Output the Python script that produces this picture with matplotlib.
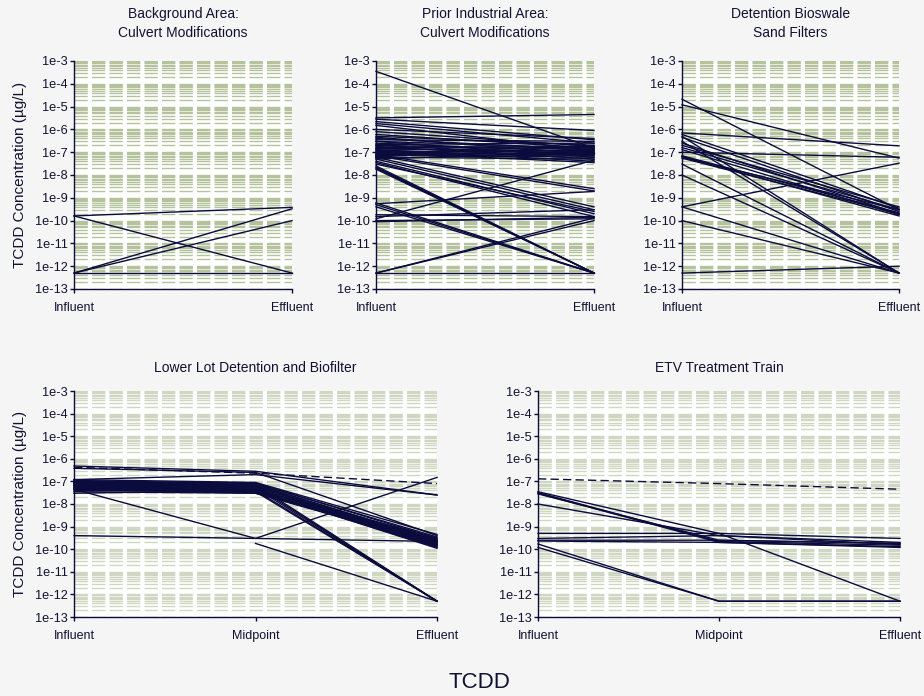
import numpy as np
import matplotlib
matplotlib.use("Agg")
import matplotlib.pyplot as plt
from matplotlib.ticker import LogLocator, FuncFormatter, NullFormatter

plt.rcParams['font.family'] = ['Liberation Sans', 'DejaVu Sans']

# --- data (TCDD, ug/L) ---
two_stage = ["Influent", "Effluent"]
three_stage = ["Influent", "Midpoint", "Effluent"]

bg_inf = [1.6e-10, 1.6e-10, 5e-13, 5e-13, 5e-13]
bg_eff = [3.8e-10, 5e-13, 3.3e-10, 1.0e-10, 5e-13]

pi_inf = [3.5e-4, 3.2e-6, 2.8e-6, 2.2e-6, 1.8e-6, 1.5e-6, 1.0e-6, 8e-7,
          6e-7, 5e-7, 4.5e-7, 4e-7, 3.5e-7, 3e-7, 3e-7, 2.5e-7, 2.2e-7, 2e-7,
          2e-7, 1.8e-7, 1.6e-7, 1.5e-7, 1.4e-7, 1.3e-7, 1.2e-7, 1.1e-7, 1e-7,
          1e-7, 9e-8, 8.5e-8, 8e-8, 7e-8, 6.5e-8, 6e-8, 5.5e-8, 5e-8,
          8e-8, 7e-8, 6e-8, 5e-8, 4e-8, 3.5e-8, 3e-8, 2.5e-8, 2.2e-8, 2e-8,
          1.8e-8, 6e-10, 5e-10, 4e-10, 5.5e-10, 1.8e-10, 1.5e-10, 1.2e-10,
          1e-10, 9e-11, 5e-13, 5e-13, 5e-13]
pi_eff = [1.5e-7, 4.5e-6, 9e-7, 3.5e-7, 2.5e-7, 1.2e-7, 4e-7, 1.8e-7,
          1.5e-7, 2e-7, 8e-8, 1.2e-7, 3e-7, 6e-8, 1.5e-7, 1e-7, 2.5e-7, 7e-8,
          1.3e-7, 5e-8, 1.8e-7, 9e-8, 1.1e-7, 4e-8, 1.6e-7, 7e-8, 1.2e-7,
          3.5e-8, 9e-8, 2e-7, 6e-8, 1e-7, 1.4e-7, 5e-8, 8e-8, 1.1e-7,
          2.5e-9, 2e-9, 4e-10, 3e-10, 2e-10, 1.5e-10, 2.5e-10, 5e-13, 5e-13,
          5e-13, 5e-13, 5e-13, 5e-13, 5e-13, 1.9e-9, 1.5e-10, 3e-10, 4.5e-8,
          1.2e-10, 1.4e-10, 1.3e-10, 1e-10, 5e-13]

bs_inf = [2.1e-5, 1.2e-5, 7e-7, 6e-7, 5e-7, 4.5e-7, 3e-7, 2.5e-7, 2e-7,
          1.6e-7, 1.3e-7, 1e-7, 7e-8, 6.5e-8, 6e-8, 5.5e-8, 3e-8, 1e-8,
          4e-10, 4e-10, 1e-10, 5e-13]
bs_eff = [3e-10, 5.5e-8, 1.9e-7, 3.5e-10, 5e-13, 2.5e-10, 5e-13, 2e-10,
          4e-10, 3e-10, 1.8e-10, 6e-8, 2.2e-10, 1.6e-10, 3e-10, 2e-10, 5e-13,
          5e-13, 3.3e-8, 5e-13, 5e-13, 1e-12]

nan = np.nan
ll_inf = [4.8e-7, 4.2e-7, 3.8e-7, 1.2e-7,
          1.2e-7, 1.1e-7, 1e-7, 1e-7, 9e-8, 9e-8, 8.5e-8, 8e-8, 8e-8, 7.5e-8,
          7e-8, 7e-8, 6.5e-8, 6e-8, 6e-8, 5.5e-8, 5e-8, 5e-8, 4.5e-8, 4e-8,
          3.5e-8, 3e-8,
          9e-8, 8e-8, 7e-8, 6e-8, 5e-8,
          4.5e-8, 4e-10, nan]
ll_mid = [2.8e-7, 2.3e-7, 2.5e-7, 2e-7,
          9e-8, 8e-8, 8.5e-8, 7e-8, 7.5e-8, 6e-8, 6.5e-8, 5e-8, 5.5e-8, 6e-8,
          4.5e-8, 5e-8, 4e-8, 4.5e-8, 3.5e-8, 4e-8, 3.2e-8, 3.8e-8, 3e-8, 3.5e-8,
          3e-8, 4e-8,
          7e-8, 6e-8, 5e-8, 4e-8, 3.5e-8,
          3e-10, 3e-10, 1.8e-10]
ll_eff = [2.5e-8, 8e-8, 4e-10, 2.5e-8,
          4.5e-10, 3.5e-10, 3e-10, 2.5e-10, 2.2e-10, 2e-10, 1.8e-10, 1.6e-10,
          2.8e-10, 1.5e-10, 2e-10, 1.3e-10, 3.2e-10, 2.4e-10, 1.7e-10, 1.2e-10,
          2.1e-10, 1.4e-10, 1.9e-10, 2.6e-10, 1.6e-10, 1.1e-10,
          5e-13, 5e-13, 5e-13, 5e-13, 5e-13,
          1.5e-7, 2.2e-10, 5e-13]
ll_dashed = [1]

etv_inf = [1.3e-7, 3.5e-8, 3.2e-8, 3e-8, 2.8e-8, 1e-8, 5e-10, 3e-10,
           2.5e-10, 2.3e-10, 1.7e-10, 1.2e-10]
etv_mid = [8e-8, 5e-10, 2.2e-10, 2e-10, 2.5e-10, 4e-10, 5e-10, 4e-10,
           2.5e-10, 2e-10, 5e-13, 5e-13]
etv_eff = [4.5e-8, 5e-13, 1.5e-10, 1.3e-10, 1.8e-10, 1.6e-10, 3e-10, 2e-10,
           1.8e-10, 1.2e-10, 5e-13, 5e-13]
etv_dashed = [0]

LINE = '#0b0b3d'
TEXT = '#111133'
W, H = 924, 696


def px_axes(fig, left, top, right, bottom):
    return fig.add_axes([left / W, 1 - bottom / H, (right - left) / W, (bottom - top) / H])


def style(ax, labels, grid_color):
    ax.set_facecolor('white')
    ax.set_yscale('log')
    ax.set_ylim(1e-13, 1e-3)
    ax.set_xlim(0, len(labels) - 1)
    ax.set_xticks(range(len(labels)))
    ax.set_xticklabels(labels, fontsize=9, color=TEXT, va='center')
    ax.yaxis.set_major_locator(LogLocator(base=10, numticks=20))
    ax.yaxis.set_minor_locator(LogLocator(base=10, subs=np.arange(2, 10), numticks=20))
    ax.yaxis.set_major_formatter(FuncFormatter(lambda v, p: "1e%d" % round(np.log10(v))))
    ax.yaxis.set_minor_formatter(NullFormatter())
    ax.tick_params(axis='y', which='major', labelsize=9.2, labelcolor=TEXT,
                   length=3, width=1, color=LINE, pad=1.5)
    ax.tick_params(axis='y', which='minor', length=0)
    ax.tick_params(axis='x', length=3, width=1, color=LINE, pad=10.5)
    # dashed horizontal grid at every decade and sub-decade step
    lw = 1.0
    ax.yaxis.grid(True, which='both', color=grid_color, linewidth=lw,
                  linestyle=(0, (9.6 / lw, 3.0 / lw)))
    ax.set_axisbelow(True)
    for s in ('top', 'right'):
        ax.spines[s].set_visible(False)
    for s in ('left', 'bottom'):
        ax.spines[s].set_color(LINE)
        ax.spines[s].set_linewidth(1.0)


def draw(ax, series, dashed=()):
    x = np.arange(len(series))
    for i, ys in enumerate(zip(*series)):
        ls = (0, (6, 3)) if i in dashed else '-'
        ax.plot(x, ys, color=LINE, lw=1.0, ls=ls, clip_on=False, zorder=3)


fig = plt.figure(figsize=(W / 100, H / 100), dpi=100, facecolor='#f5f5f5')

top_green = '#b4c39e'
bot_green = '#cfd7c2'

ax1 = px_axes(fig, 74, 61, 292, 289)
ax2 = px_axes(fig, 376, 61, 594, 289)
ax3 = px_axes(fig, 682, 61, 899, 289)
ax4 = px_axes(fig, 74, 391, 437, 617)
ax5 = px_axes(fig, 538, 391, 900, 617)

for ax in (ax1, ax2, ax3):
    style(ax, two_stage, top_green)
for ax in (ax4, ax5):
    style(ax, three_stage, bot_green)

draw(ax1, [bg_inf, bg_eff])
draw(ax2, [pi_inf, pi_eff])
draw(ax3, [bs_inf, bs_eff])
draw(ax4, [ll_inf, ll_mid, ll_eff], ll_dashed)
draw(ax5, [etv_inf, etv_mid, etv_eff], etv_dashed)

title_kw = dict(fontsize=10, color=TEXT, linespacing=1.5)
ax1.set_title("Background Area:\nCulvert Modifications", pad=17, **title_kw)
ax2.set_title("Prior Industrial Area:\nCulvert Modifications", pad=17, **title_kw)
ax3.set_title("Detention Bioswale\nSand Filters", pad=17, **title_kw)
ax4.set_title("Lower Lot Detention and Biofilter", pad=13.5, **title_kw)
ax5.set_title("ETV Treatment Train", pad=13.5, **title_kw)

ylab = "TCDD Concentration (\u00b5g/L)"
fig.text(20 / W, 1 - 175 / H, ylab, rotation=90, ha='center', va='center', fontsize=11, color=TEXT)
fig.text(20 / W, 1 - 504 / H, ylab, rotation=90, ha='center', va='center', fontsize=11, color=TEXT)
fig.text(479 / W, 1 - 683 / H, "TCDD", ha='center', va='center', fontsize=16, color=TEXT)

fig.savefig("out.png", dpi=100, facecolor=fig.get_facecolor())
